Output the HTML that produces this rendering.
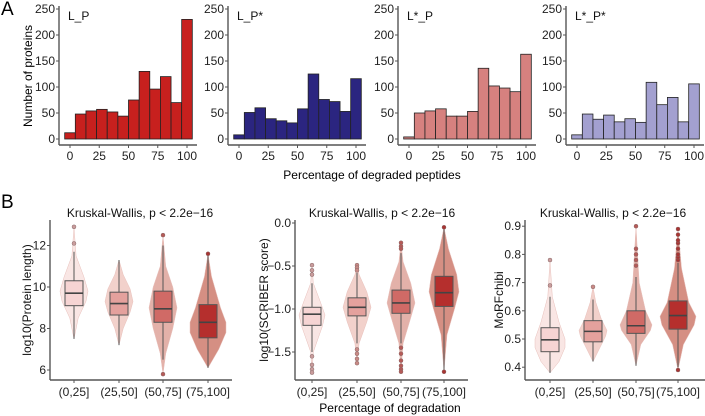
<!DOCTYPE html>
<html><head><meta charset="utf-8"><style>
body{margin:0;background:#fff;}
svg{display:block;font-family:"Liberation Sans",sans-serif;}
</style></head><body>
<svg id="fig" width="705" height="416" viewBox="0 0 705 416">
<text x="1" y="15" font-size="19">A</text>
<text x="1" y="208" font-size="19">B</text>
<text x="372" y="179" font-size="12" text-anchor="middle">Percentage of degraded peptides</text>
<text transform="translate(32,76) rotate(-90)" font-size="12" text-anchor="middle">Number of proteins</text>
<text x="390" y="412" font-size="12" text-anchor="middle">Percentage of degradation</text>
<g id="root"></g>
</svg>
<script>
// ---- Panel A data ----
const histBins = [0,9.09,18.18,27.27,36.36,45.45,54.55,63.64,72.73,81.82,90.91,100];
const histTicks = [0,25,50,75,100];
const countTicks = [0,50,100,150,200,250];
const histNames = ['L_P','L_P*','L*_P','L*_P*'];
const histLP   = [12,48,54,57,52,44,75,130,96,120,70,230];
const histLPs  = [8,51,60,39,35,31,58,125,76,72,53,116];
const histLsP  = [4,50,54,58,44,44,53,136,102,98,91,163];
const histLsPs = [8,48,38,46,33,39,32,109,66,80,33,106];
// ---- Panel B data ----
const groups = ['(0,25]','(25,50]','(50,75]','(75,100]'];
const lenTicks = [6,8,10,12];
const lenBox = [[7.5,9.1,9.7,10.3,11.7],[7.2,8.65,9.2,9.75,11.3],[6.5,8.3,8.95,9.8,12.0],[6.1,7.55,8.3,9.15,11.6]];
const lenOut = [[12.1,12.9],[],[12.5,5.8],[11.6]];
const lenVioV = [[7.5,8.5,9.3,9.8,10.5,11.5,12.9],[7.2,8,8.8,9.3,9.9,10.6,11.3],[5.8,6.8,8,9,10,11,12.5],[6.1,7,7.8,8.3,9,10.5,11.6]];
const lenVioD = [[0,0.3,0.85,1,0.7,0.15,0],[0,0.3,0.8,1,0.8,0.3,0],[0,0.2,0.7,1,0.7,0.2,0],[0,0.6,1,1,0.7,0.2,0]];
const scrTicks = [-1.5,-1.0,-0.5,0.0];
const scrBox = [[-1.5,-1.19,-1.06,-0.98,-0.7],[-1.4,-1.08,-0.98,-0.87,-0.58],[-1.4,-1.05,-0.93,-0.78,-0.35],[-1.73,-0.97,-0.81,-0.62,-0.05]];
const scrOut = [[-0.49,-0.55,-0.6,-1.55,-1.65,-1.7,-1.74],[-0.49,-0.52,-0.55,-1.47,-1.52,-1.58,-1.63],[-0.23,-0.27,-0.3,-1.45,-1.52,-1.6,-1.66,-1.7,-1.73],[-0.05,-1.73]];
const scrVioV = [[-1.75,-1.5,-1.2,-1.07,-0.9,-0.7,-0.48],[-1.63,-1.4,-1.15,-0.98,-0.8,-0.6,-0.49],[-1.73,-1.4,-1.1,-0.93,-0.7,-0.45,-0.23],[-1.73,-1.3,-1,-0.8,-0.6,-0.3,-0.05]];
const scrVioD = [[0,0.1,0.8,1,0.6,0.1,0],[0,0.15,0.7,1,0.7,0.15,0],[0,0.15,0.7,1,0.7,0.15,0],[0,0.2,0.7,1,0.85,0.3,0]];
const morTicks = [0.4,0.5,0.6,0.7,0.8,0.9];
const morBox = [[0.38,0.455,0.497,0.54,0.65],[0.42,0.49,0.527,0.565,0.64],[0.405,0.52,0.547,0.6,0.72],[0.4,0.535,0.583,0.635,0.77]];
const morOut = [[0.69,0.78],[0.685],[0.76,0.78,0.8,0.82,0.9],[0.78,0.79,0.8,0.82,0.84,0.85,0.87,0.89,0.39]];
const morVioV = [[0.38,0.42,0.47,0.5,0.56,0.65,0.78],[0.42,0.47,0.51,0.53,0.57,0.63,0.685],[0.405,0.48,0.53,0.55,0.6,0.7,0.9],[0.39,0.48,0.55,0.58,0.63,0.75,0.89]];
const morVioD = [[0,0.6,1,1,0.6,0.15,0],[0,0.5,0.9,1,0.6,0.2,0],[0,0.3,0.9,1,0.6,0.2,0],[0,0.3,0.9,1,0.6,0.2,0]];

const NS='http://www.w3.org/2000/svg';
const root=document.getElementById('root');
function mk(tag,attrs,parent){const e=document.createElementNS(NS,tag);for(const k in attrs)e.setAttribute(k,attrs[k]);(parent||root).appendChild(e);return e;}

// ---- Histograms ----
const histSeries=[histLP,histLPs,histLsP,histLsPs];
const histFill=['#c7201e','#2b2580','#d6817f','#a3a0d0'];
const histAxisX=[59,228,398,566];
const binW=100/11;
histSeries.forEach((vals,p)=>{
  const ax=histAxisX[p];
  const xs=v=>ax+11+(v)*1.17;
  const ys=v=>139-v*0.52;
  const g=mk('g',{});
  
  
  vals.forEach((v,i)=>{
    const b=histBins[i];
    const r=mk('rect',{x:xs(b-binW/2),y:ys(v),width:xs(b+binW/2)-xs(b-binW/2),height:ys(0)-ys(v),fill:histFill[p],stroke:'#222','stroke-width':0.8},g);
    
    
  });
  mk('line',{x1:ax,y1:6,x2:ax,y2:145,stroke:'#555','stroke-width':1.4},g);
  mk('line',{x1:ax,y1:145,x2:ax+138,y2:145,stroke:'#555','stroke-width':1.4},g);
  countTicks.forEach(t=>{
    mk('line',{x1:ax-3,y1:ys(t),x2:ax,y2:ys(t),stroke:'#555'},g);
    const tx=mk('text',{x:ax-4,y:ys(t)+4,'font-size':12,'text-anchor':'end',fill:'#222'},g);tx.textContent=t;
  });
  histTicks.forEach(t=>{
    mk('line',{x1:xs(t),y1:145,x2:xs(t),y2:148,stroke:'#555'},g);
    const tx=mk('text',{x:xs(t),y:160,'font-size':12,'text-anchor':'middle',fill:'#222'},g);tx.textContent=t;
  });
  const lb=mk('text',{x:ax+9,y:20,'font-size':12,fill:'#111'},g);lb.textContent=histNames[p];
});

// ---- Violin/box panels ----
const boxFill=['#f6d4d3','#e4a19d','#d06a66','#b52f2d'];
const vioFill=['#f9e6e4','#f2d1cb','#e3b1a9','#d58f83'];
const outCol=['#c99c9c','#c98a86','#b65a57','#a83432'];
function panel(name,ax,right,yfun,ticks,fmt,cx,box,outs,vv,vd,hws,title,titleX,ytitle,ytx){
  const g=mk('g',{});
  
  
  groups.forEach((gn,i)=>{
    const c=cx[i];const hw=hws[i];let L=[],R=[];
    vv[i].forEach((v,k)=>{L.push([c-vd[i][k]*hw,yfun(v)]);R.push([c+vd[i][k]*hw,yfun(v)]);});
    const pts=L.concat(R.reverse());
    const vi=mk('path',{d:'M'+pts.map(p=>p[0].toFixed(1)+','+p[1].toFixed(1)).join('L')+'Z',fill:vioFill[i],stroke:'#e8c0bb','stroke-width':0.5},g);
    
    
    const b=box[i];
    mk('line',{x1:c,y1:yfun(b[0]),x2:c,y2:yfun(b[4]),stroke:'#555','stroke-width':1},g);
    const bx=mk('rect',{x:c-9,y:yfun(b[3]),width:18,height:yfun(b[1])-yfun(b[3]),fill:boxFill[i],stroke:'#555','stroke-width':1},g);
    
    
    mk('line',{x1:c-9,y1:yfun(b[2]),x2:c+9,y2:yfun(b[2]),stroke:'#444','stroke-width':1.6},g);
    outs[i].forEach(o=>{
      const d=mk('circle',{cx:c,cy:yfun(o),r:2,fill:outCol[i],stroke:'#8a6a6a','stroke-width':0.5},g);
      
      
    });
    mk('line',{x1:c,y1:380,x2:c,y2:383,stroke:'#555'},g);
    const t=mk('text',{x:c,y:396,'font-size':12,'text-anchor':'middle',fill:'#222'},g);t.textContent=gn;
  });
  mk('line',{x1:ax,y1:220,x2:ax,y2:380,stroke:'#555','stroke-width':1.4},g);
  mk('line',{x1:ax,y1:380,x2:right,y2:380,stroke:'#555','stroke-width':1.4},g);
  ticks.forEach(t=>{
    mk('line',{x1:ax-3,y1:yfun(t),x2:ax,y2:yfun(t),stroke:'#555'},g);
    const tx=mk('text',{x:ax-4,y:yfun(t)+4,'font-size':12,'text-anchor':'end',fill:'#222'},g);tx.textContent=fmt(t);
  });
  const tt=mk('text',{x:titleX,y:217,'font-size':12,'text-anchor':'middle',fill:'#111'},g);tt.textContent=title;
  const yt=mk('text',{transform:'translate('+ytx+',300) rotate(-90)','font-size':12,'text-anchor':'middle',fill:'#111'},g);yt.textContent=ytitle;
}
const KW='Kruskal-Wallis, p < 2.2e\u221216';
const minus=s=>s.replace('-','\u2212');
panel('violin-protein-length',50,232,v=>287-(v-10)*20.75,lenTicks,t=>String(t),[74,119,163,208],lenBox,lenOut,lenVioV,lenVioD,[14,14,14,18],KW,140,'log10(Protein length)',31);
panel('violin-scriber',295,468,v=>223-v*86,scrTicks,t=>minus(t.toFixed(1)),[312,357,401,444],scrBox,scrOut,scrVioV,scrVioD,[13,14,14,15],KW,382,'log10(SCRIBER score)',268);
panel('violin-morfchibi',525,705,v=>339-(v-0.5)*282,morTicks,t=>t.toFixed(1),[550,593,636,678],morBox,morOut,morVioV,morVioD,[15,14,16,18],KW,613,'MoRFchibi',503);
</script>
</body></html>
